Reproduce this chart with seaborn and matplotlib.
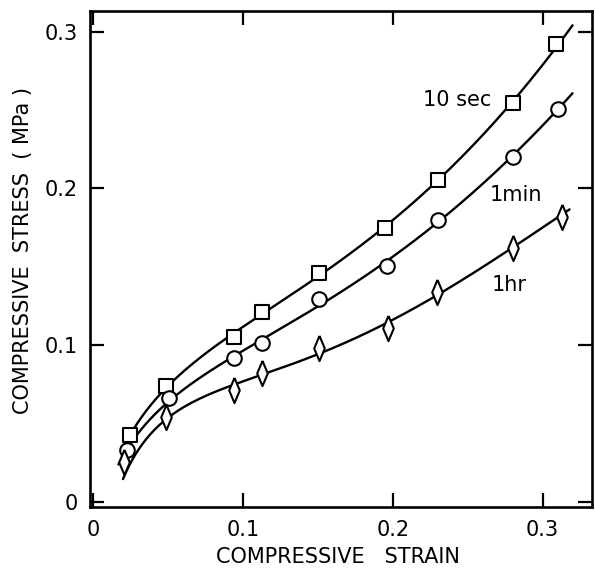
import numpy as np
import pandas as pd
import matplotlib
matplotlib.use("Agg")
import matplotlib.pyplot as plt
import seaborn as sns

# Values
series = ["10 sec", "1min", "1hr"]
strain_10s = [0.025, 0.049, 0.094, 0.113, 0.151, 0.195, 0.230, 0.280, 0.309]
stress_10s = [0.0425, 0.074, 0.105, 0.121, 0.146, 0.1746, 0.2054, 0.2548, 0.292]
strain_1min = [0.023, 0.051, 0.094, 0.113, 0.151, 0.196, 0.230, 0.280, 0.310]
stress_1min = [0.033, 0.066, 0.0915, 0.1015, 0.1294, 0.1507, 0.180, 0.220, 0.2506]
strain_1hr = [0.021, 0.049, 0.094, 0.1125, 0.151, 0.197, 0.2295, 0.280, 0.313]
stress_1hr = [0.025, 0.0542, 0.0712, 0.0819, 0.0979, 0.1107, 0.1341, 0.1618, 0.182]

# where the drawn curves begin and end
curve_start = [(0.021, 0.036), (0.017, 0.024), (0.020, 0.014)]
curve_end = [(0.320, 0.303), (0.320, 0.261), (0.318, 0.188)]
# the first 1hr point sits off its curve
skip_in_fit = [None, None, 0]

# label positions
label_pos = [(0.243, 0.2565), (0.282, 0.1958), (0.278, 0.1383)]

x_ticks = [0, 0.1, 0.2, 0.3]
x_ticklabels = ["0", "0.1", "0.2", "0.3"]
y_ticks = [0, 0.1, 0.2, 0.3]
y_ticklabels = ["0", "0.1", "0.2", "0.3"]

sns.set_style("ticks")
plt.rcParams['font.family'] = ['DejaVu Sans']
plt.rcParams['text.color'] = 'black'
plt.rcParams['axes.labelcolor'] = 'black'
plt.rcParams['xtick.color'] = 'black'
plt.rcParams['ytick.color'] = 'black'
plt.rcParams['axes.edgecolor'] = 'black'

fig = plt.figure(figsize=(5.95, 5.72), dpi=100)
ax = fig.add_axes([90 / 595, 65 / 572, 502 / 595, 496 / 572])

diamond = [(0, 1), (0.42, 0), (0, -1), (-0.42, 0), (0, 1)]
markers = ["s", "o", diamond]
sizes = [105, 110, 330]

data = [(strain_10s, stress_10s), (strain_1min, stress_1min), (strain_1hr, stress_1hr)]

for i, (xs, ys) in enumerate(data):
    # smooth curve fitted through the points and curve ends
    keep = [j for j in range(len(xs)) if j != skip_in_fit[i]]
    fx = np.array([curve_start[i][0]] + [xs[j] for j in keep] + [curve_end[i][0]])
    fy = np.array([curve_start[i][1]] + [ys[j] for j in keep] + [curve_end[i][1]])
    basis = lambda x: np.column_stack([np.ones_like(x), np.sqrt(x), x, x ** 2, x ** 3])
    coef, *_ = np.linalg.lstsq(basis(fx), fy, rcond=None)
    xx = np.linspace(curve_start[i][0], curve_end[i][0], 200)
    curve = pd.DataFrame({"strain": xx, "stress": basis(xx) @ coef})
    sns.lineplot(data=curve, x="strain", y="stress", ax=ax, color="black", lw=1.7, zorder=2)

    pts = pd.DataFrame({"strain": xs, "stress": ys})
    sns.scatterplot(data=pts, x="strain", y="stress", ax=ax, marker=markers[i], s=sizes[i],
                    facecolor="white", edgecolor="black", linewidth=1.5, zorder=3)

    ax.text(label_pos[i][0], label_pos[i][1], series[i], fontsize=15, ha="center", va="center")

ax.set_xlim(-0.002, 0.333)
ax.set_ylim(-0.0035, 0.3134)
ax.set_xticks(x_ticks)
ax.set_xticklabels(x_ticklabels)
ax.set_yticks(y_ticks)
ax.set_yticklabels(y_ticklabels)
ax.tick_params(direction="in", length=10, width=1.6, labelsize=15, pad=9,
               top=True, right=True)

for sp in ax.spines.values():
    sp.set_linewidth(1.9)

ax.set_xlabel("COMPRESSIVE   STRAIN", fontsize=15)
ax.set_ylabel("COMPRESSIVE  STRESS  ( MPa )", fontsize=15)
ax.xaxis.set_label_coords(0.494, -0.08)
ax.yaxis.set_label_coords(-0.113, 0.518)

fig.savefig("out.png", dpi=100)
